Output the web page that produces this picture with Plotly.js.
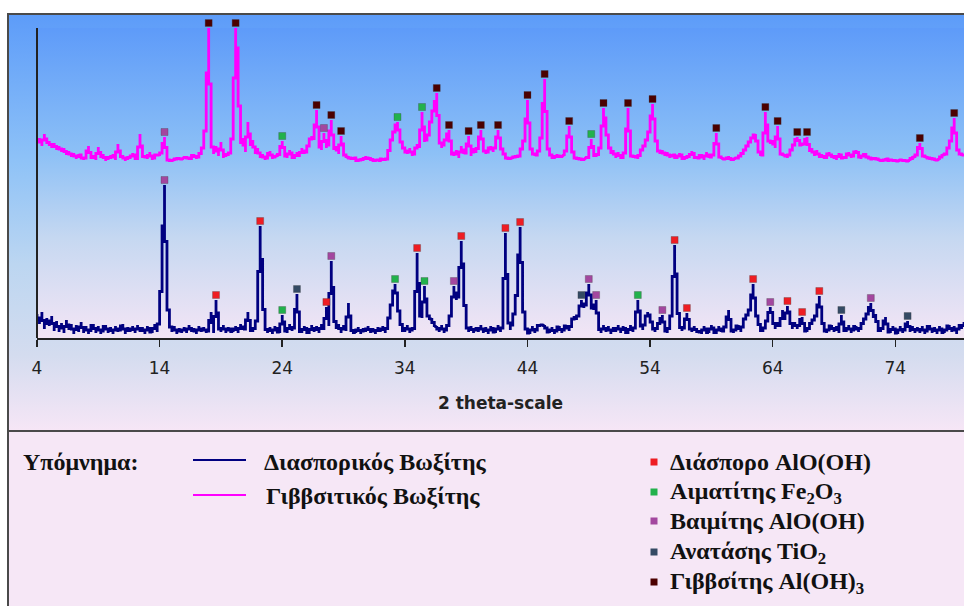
<!DOCTYPE html>
<html>
<head>
<meta charset="utf-8">
<script src="https://cdn.plot.ly/plotly-3.0.1.min.js"></script>
<style>
  html, body { margin: 0; padding: 0; background: #ffffff; }
  #wrap { position: relative; width: 964px; height: 606px; overflow: hidden; background: #ffffff; }
  #panel {
    position: absolute; left: 7px; top: 13px; width: 1000px; height: 419px; box-sizing: border-box;
    border: 2px solid #4a4a4a;
    background: linear-gradient(to bottom, #5d9cf9 0%, #8ec2f7 35%, #bcd6f1 60%, #d4dcef 82%, #f6e6f6 100%);
  }
  #plotbg {
    position: absolute; left: 37px; top: 28px; width: 927px; height: 310px;
    background: linear-gradient(to bottom, #5e9bf9 0%, #8cc0f6 40%, #c6d8f1 68%, #f3e5f5 100%);
  }
  #key {
    position: absolute; left: 7px; top: 430px; width: 1000px; height: 200px; box-sizing: border-box;
    border: 2px solid #4a4a4a; background: #f6e7f6;
  }
  #chart { position: absolute; left: 0; top: 0; width: 964px; height: 606px; }
</style>
</head>
<body>
<div id="wrap">
  <div id="panel"></div>
  <div id="plotbg"></div>
  <div id="key"></div>
  <div id="chart"></div>
</div>
<script>
// Scan grid: 2θ from 4° in 0.2° steps
const SCAN_START = 4.0;
const SCAN_STEP = 0.2;

// Diasporic bauxite intensities (a.u.), one row per 2°
const diasporic = [
  24,14,26,9,20,12,22,7,17,6,
  15,5,18,8,14,4,13,6,16,5,
  12,4,11,14,5,12,4,10,13,5,
  11,4,12,6,10,14,4,11,6,12,
  5,13,6,11,4,12,7,5,14,6,
  22,71,153,40,16,6,12,4,10,5,
  11,5,13,6,10,4,12,6,11,5,
  9,26,5,38,12,6,13,5,11,7,
  6,12,5,14,8,10,26,9,6,13,
  21,112,45,12,5,11,4,12,7,5,
  23,9,5,14,7,13,44,8,5,12,
  7,4,13,6,12,5,14,8,31,12,
  77,24,9,14,5,13,7,35,9,6,
  5,11,4,10,6,12,5,10,4,11,
  6,12,5,14,26,40,54,36,18,9,
  6,13,5,11,8,85,24,20,52,26,
  18,20,11,12,6,13,5,11,14,30,
  52,38,44,97,51,14,6,12,5,11,
  6,13,5,11,4,12,7,5,13,6,
  14,105,22,8,18,30,55,111,40,12,
  6,4,12,5,11,14,12,13,7,5,
  11,4,10,12,5,11,13,7,16,22,
  18,26,38,30,36,54,32,28,38,12,
  5,13,6,12,4,11,6,13,5,12,
  7,4,13,6,14,38,16,8,18,26,
  20,12,6,13,16,23,9,5,14,30,
  93,35,14,7,13,25,12,6,12,5,
  8,4,12,6,5,13,7,4,12,6,
  8,14,28,9,5,11,13,6,16,22,
  24,32,54,26,18,9,6,14,20,31,
  20,9,16,11,28,18,32,20,9,16,
  9,16,21,8,6,13,16,20,24,42,
  20,9,5,11,13,6,12,5,23,9,
  6,13,5,11,12,6,13,16,22,26,
  35,20,24,9,6,13,21,7,5,12,
  6,4,12,5,11,17,6,12,5,11,
  5,12,4,10,13,5,11,4,12,6,
  5,11,13,6,12,4,14,9,16,13
];

// Gibbsitic bauxite intensities (a.u.), one row per 2°
const gibbsitic = [
  26,30,22,34,24,27,20,25,18,22,
  16,20,13,17,11,15,9,14,12,8,
  12,22,9,13,8,21,10,14,7,12,
  9,14,8,24,10,13,7,12,9,15,
  11,8,34,10,13,9,16,8,12,14,
  12,18,31,10,6,9,7,11,8,10,
  9,12,8,11,14,9,13,16,24,50,
  140,28,14,22,12,26,10,15,12,18,
  40,140,100,24,30,16,46,22,28,14,
  20,10,14,8,12,17,9,13,11,16,
  27,14,10,18,12,9,16,11,20,14,
  18,26,32,28,58,24,18,35,20,26,
  48,18,22,14,32,16,10,12,8,11,
  9,6,10,7,12,8,11,6,9,7,
  8,10,7,11,24,32,40,46,30,22,
  18,14,20,12,16,24,20,56,26,30,
  36,56,58,75,30,20,26,30,38,16,
  12,18,10,22,14,16,32,12,20,15,
  24,38,20,14,18,22,16,24,38,22,
  16,12,8,11,9,13,10,14,24,30,
  68,22,16,12,14,20,40,89,24,14,
  12,9,14,10,13,12,22,42,20,12,
  8,11,7,10,9,12,29,14,11,16,
  24,60,40,26,14,18,10,16,9,12,
  18,60,14,10,13,9,16,20,24,32,
  40,64,34,20,14,18,12,16,10,14,
  12,9,15,11,8,13,10,17,12,9,
  11,14,8,16,10,12,14,35,13,9,
  10,8,12,7,10,9,11,13,16,20,
  24,28,32,34,20,12,14,56,30,24,
  28,20,42,16,12,14,10,16,20,26,
  31,24,22,26,31,16,20,12,18,10,
  14,9,12,16,10,13,8,15,11,9,
  12,16,10,14,18,13,9,15,12,10,
  10,8,11,7,9,6,10,8,7,9,
  6,8,7,9,6,8,7,12,10,16,
  25,14,10,12,8,11,7,9,8,14,
  12,16,24,30,50,20,16,12,14,12
];

// Identified reflections (2θ) for each mineral phase
const diasporeDiasporic = [18.6, 22.2, 27.6, 35.0, 38.6, 42.2, 43.4, 56.0, 57.0, 62.4, 65.2, 66.4, 67.8];
const hematiteDiasporic = [24.0, 33.2, 35.6, 53.0];
const boehmiteDiasporic = [14.4, 28.0, 38.0, 49.0, 49.6, 55.0, 63.8, 72.0];
const anataseDiasporic  = [25.2, 48.4, 69.6, 75.0];
const gibbsiteGibbsitic = [18.0, 20.2, 26.8, 28.0, 28.8, 36.6, 37.6, 39.2, 40.2, 41.6, 44.0, 45.4, 47.4,
                           50.2, 52.2, 54.2, 59.4, 63.4, 64.4, 66.0, 66.8, 76.0, 78.8];
const hematiteGibbsitic = [24.0, 33.4, 35.4, 49.2];
const boehmiteGibbsitic = [14.4, 27.4];

const xTicks = [4, 14, 24, 34, 44, 54, 64, 74];

const seriesNames = ['Διασπορικός Βωξίτης', 'Γιββσιτικός Βωξίτης'];
const phaseNames = [
  'Διάσπορο AlO(OH)',
  'Αιματίτης Fe<sub>2</sub>O<sub>3</sub>',
  'Βαιμίτης AlO(OH)',
  'Ανατάσης TiO<sub>2</sub>',
  'Γιββσίτης Al(OH)<sub>3</sub>'
];

// Styling
const NAVY = '#000080';
const MAGENTA = '#ff00ff';
const PHASE_COLORS = ['#ee1d23', '#22b14c', '#a3479f', '#344a64', '#4b0000'];
const STACK_OFFSET = 170;   // vertical offset of the gibbsitic pattern
const MARK_GAP = 5;         // gap between a peak top and its phase marker
const AXIS_TOP = 310;       // intensity where the drawn y axis line ends

const twoTheta = diasporic.map((_, i) => +(SCAN_START + i * SCAN_STEP).toFixed(1));
const idxOf = t => Math.round((t - SCAN_START) / SCAN_STEP);

function marks(pattern, positions, offset) {
  return {
    x: positions,
    y: positions.map(t => pattern[idxOf(t)] + offset + MARK_GAP)
  };
}

function phaseTrace(name, color, groups) {
  const xs = [], ys = [];
  groups.forEach(g => { xs.push(...g.x); ys.push(...g.y); });
  return {
    type: 'scatter', mode: 'markers', name: name, x: xs, y: ys,
    cliponaxis: false, hoverinfo: 'skip',
    marker: { symbol: 'square', size: 7, color: color, line: { width: 0.6, color: 'rgba(60,60,60,0.5)' } }
  };
}

const traces = [
  { type: 'scatter', mode: 'lines', name: seriesNames[0], x: twoTheta, y: diasporic,
    line: { color: NAVY, width: 2.8, shape: 'vhv' }, hoverinfo: 'skip' },
  { type: 'scatter', mode: 'lines', name: seriesNames[1], x: twoTheta,
    y: gibbsitic.map(v => v + STACK_OFFSET),
    line: { color: MAGENTA, width: 2.8, shape: 'vhv' }, hoverinfo: 'skip' },
  phaseTrace(phaseNames[0], PHASE_COLORS[0], [marks(diasporic, diasporeDiasporic, 0)]),
  phaseTrace(phaseNames[1], PHASE_COLORS[1], [marks(diasporic, hematiteDiasporic, 0),
                                              marks(gibbsitic, hematiteGibbsitic, STACK_OFFSET)]),
  phaseTrace(phaseNames[2], PHASE_COLORS[2], [marks(diasporic, boehmiteDiasporic, 0),
                                              marks(gibbsitic, boehmiteGibbsitic, STACK_OFFSET)]),
  phaseTrace(phaseNames[3], PHASE_COLORS[3], [marks(diasporic, anataseDiasporic, 0)]),
  phaseTrace(phaseNames[4], PHASE_COLORS[4], [marks(gibbsitic, gibbsiteGibbsitic, STACK_OFFSET)])
];

// Plot area geometry (px); the key below the axes is placed from it
const PLOT_L = 37, PLOT_W = 927, PLOT_T = 20, PLOT_H = 318;
const PX = px => (px - PLOT_L) / PLOT_W;
const PY = py => (PLOT_T + PLOT_H - py) / PLOT_H;

const keyFont = { family: 'Liberation Serif, Times New Roman, serif', size: 24, color: '#111111', weight: 'bold' };

const annotations = [
  { text: 'Υπόμνημα:', x: PX(21), y: PY(462) },
  { text: seriesNames[0], x: PX(262), y: PY(462) },
  { text: seriesNames[1], x: PX(264), y: PY(496) }
];
const keyRows = [462, 492, 521, 552, 582];
phaseNames.forEach((n, i) => annotations.push({ text: n, x: PX(668), y: PY(keyRows[i] + (n.includes('<sub>') ? 1 : 0)) }));
annotations.forEach(a => Object.assign(a, {
  xref: 'paper', yref: 'paper', xanchor: 'left', yanchor: 'middle', showarrow: false, font: keyFont
}));

const shapes = [
  // y axis line, ending at the top of the intensity scale
  { type: 'line', xref: 'paper', yref: 'y', x0: 0, x1: 0, y0: 0, y1: AXIS_TOP,
    line: { color: '#222222', width: 2 } },
  { type: 'line', xref: 'paper', yref: 'paper', x0: PX(193), x1: PX(246), y0: PY(460), y1: PY(460),
    line: { color: NAVY, width: 2 } },
  { type: 'line', xref: 'paper', yref: 'paper', x0: PX(193), x1: PX(246), y0: PY(495), y1: PY(495),
    line: { color: MAGENTA, width: 2 } }
];
keyRows.forEach((r, i) => shapes.push({
  type: 'rect', xref: 'paper', yref: 'paper',
  x0: PX(650.5), x1: PX(657.5), y0: PY(r - 3.5), y1: PY(r + 3.5),
  fillcolor: PHASE_COLORS[i], line: { width: 0 }
}));

const layout = {
  width: 964, height: 606,
  margin: { l: PLOT_L, r: 964 - PLOT_L - PLOT_W, t: PLOT_T, b: 606 - PLOT_T - PLOT_H, pad: 0 },
  paper_bgcolor: 'rgba(0,0,0,0)', plot_bgcolor: 'rgba(0,0,0,0)',
  showlegend: false,
  xaxis: {
    range: [4, 79.6], tickvals: xTicks, ticks: 'outside', ticklen: 7, tickwidth: 1.5, tickcolor: '#222222',
    showline: true, linecolor: '#222222', linewidth: 2, showgrid: false, zeroline: false,
    tickfont: { family: 'DejaVu Sans, Verdana, sans-serif', size: 17, color: '#222222' },
    ticklabelstandoff: 7,
    title: { text: '2 theta-scale', standoff: 20,
             font: { family: 'DejaVu Sans, Verdana, sans-serif', size: 17, color: '#222222', weight: 'bold' } }
  },
  yaxis: {
    range: [0, PLOT_H], showline: false,
    showticklabels: false, ticks: '', showgrid: false, zeroline: false
  },
  annotations: annotations,
  shapes: shapes
};

Plotly.newPlot('chart', traces, layout, { displayModeBar: false, staticPlot: true });
</script>
</body>
</html>
